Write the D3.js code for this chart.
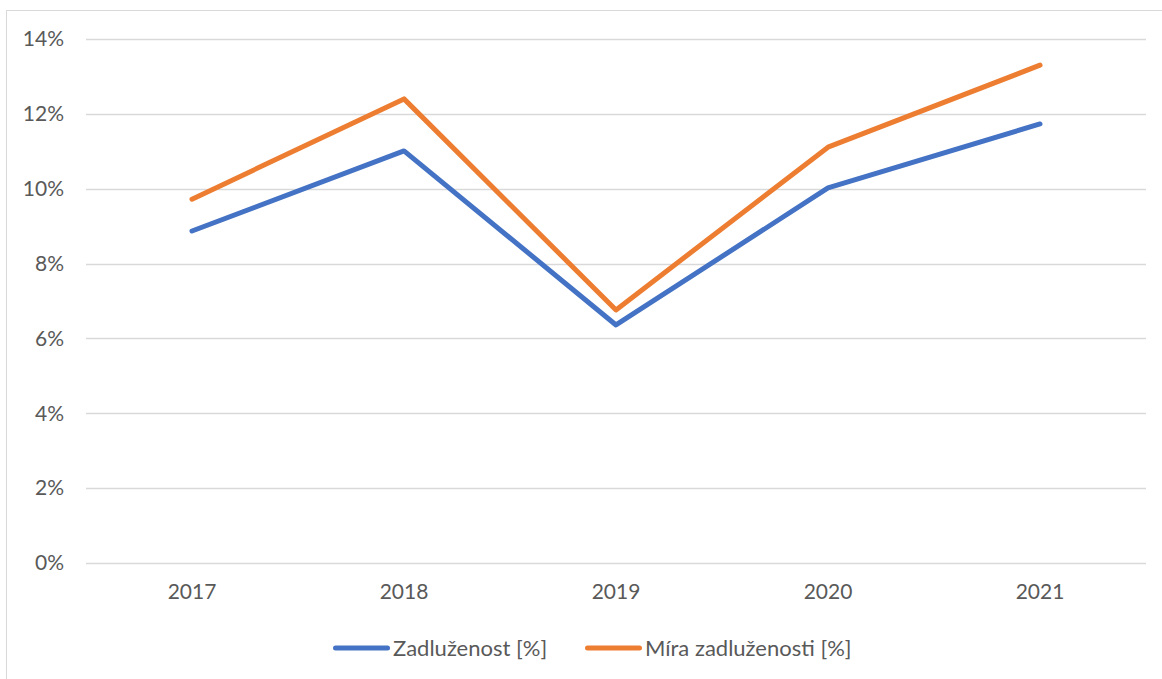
<!DOCTYPE html>
<html>
<head>
<meta charset="utf-8">
<script src="https://cdn.jsdelivr.net/npm/d3@7"></script>
<style>
  body { margin: 0; background: #fff; }
  svg { display: block; font-family: Lato, "Open Sans", sans-serif; }
</style>
</head>
<body>
<div id="chart"></div>
<script>
var years = ['2017', '2018', '2019', '2020', '2021'];
var zadluzenost = [8.87, 11.01, 6.36, 10.02, 11.73];
var miraZadluzenosti = [9.72, 12.40, 6.76, 11.11, 13.30];
var yTicks = [0, 2, 4, 6, 8, 10, 12, 14];
var seriesNames = ['Zadluženost [%]', 'Míra zadluženosti [%]'];
var seriesColors = ['#4472C4', '#ED7D31'];

var width = 1162, height = 679;
var margin = { top: 39, right: 16, bottom: 116, left: 86 };
var fontSize = '21px';

var svg = d3.select('#chart').append('svg')
	.attr('width', width)
	.attr('height', height);

// chart frame
svg.append('rect')
	.attr('x', 6.5).attr('y', 10.5)
	.attr('width', width).attr('height', height)
	.style('fill', 'none')
	.style('stroke', '#d9d9d9')
	.style('stroke-width', 1);

var x = d3.scaleBand()
	.domain(years)
	.range([margin.left, width - margin.right]);

var y = d3.scaleLinear()
	.domain([0, 14])
	.range([height - margin.bottom, margin.top]);

// gridlines
svg.append('g')
	.selectAll('line')
	.data(yTicks)
	.enter().append('line')
	.attr('x1', margin.left)
	.attr('x2', width - margin.right)
	.attr('y1', function(d){ return Math.round(y(d)) + 0.5; })
	.attr('y2', function(d){ return Math.round(y(d)) + 0.5; })
	.style('stroke', '#d9d9d9')
	.style('stroke-width', 1.5);

// y axis labels
var yAxis = d3.axisLeft(y)
	.tickValues(yTicks)
	.tickFormat(function(d){ return d + '%'; })
	.tickSize(0)
	.tickPadding(22);

var yg = svg.append('g')
	.attr('transform', 'translate(' + margin.left + ',0)')
	.call(yAxis);
yg.select('.domain').remove();
yg.selectAll('text')
	.style('font-family', 'Lato, "Open Sans", sans-serif')
	.style('font-size', fontSize)
	.style('fill', '#595959');

// x axis labels
var xAxis = d3.axisBottom(x).tickSize(0).tickPadding(21);
var xg = svg.append('g')
	.attr('transform', 'translate(0,' + (height - margin.bottom) + ')')
	.call(xAxis);
xg.select('.domain').remove();
xg.selectAll('text')
	.style('font-family', 'Lato, "Open Sans", sans-serif')
	.style('font-size', fontSize)
	.style('fill', '#595959');

// lines
var line = d3.line()
	.x(function(d, i){ return x(years[i]) + x.bandwidth() / 2; })
	.y(function(d){ return y(d); });

[zadluzenost, miraZadluzenosti].forEach(function(values, k) {
	svg.append('path')
		.datum(values)
		.attr('d', line)
		.style('fill', 'none')
		.style('stroke', seriesColors[k])
		.style('stroke-width', 5)
		.style('stroke-linecap', 'round')
		.style('stroke-linejoin', 'round');
});

// legend
var legendX = [335.5, 587.5];
var legend = svg.append('g').attr('transform', 'translate(0,648)');
seriesNames.forEach(function(name, k) {
	legend.append('line')
		.attr('x1', legendX[k]).attr('x2', legendX[k] + 52)
		.attr('y1', 0).attr('y2', 0)
		.style('stroke', seriesColors[k])
		.style('stroke-width', 5)
		.style('stroke-linecap', 'round');
	legend.append('text')
		.attr('x', legendX[k] + 57.5)
		.attr('y', 0)
		.attr('dy', '0.35em')
		.style('font-size', '22px')
		.style('fill', '#595959')
		.text(name);
});
</script>
</body>
</html>
